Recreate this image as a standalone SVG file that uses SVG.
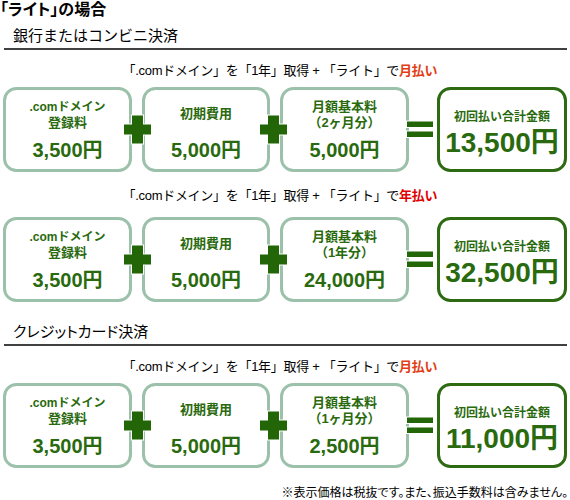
<svg xmlns="http://www.w3.org/2000/svg" xmlns:xlink="http://www.w3.org/1999/xlink" width="570" height="500" viewBox="0 0 570 500">
<style>
text{font-family:"Liberation Sans","Noto Sans CJK JP",sans-serif}
.h1{font-size:16px;font-weight:bold;fill:#000;font-feature-settings:"palt"}
.h2{font-size:15px;fill:#000}
.pal{font-feature-settings:"palt"}
.sub{font-size:13px;fill:#000;text-anchor:middle}
.red1{fill:#e23c14;font-weight:bold}
.red2{fill:#e00000;font-weight:bold}
.box{fill:#fff;stroke:#9cc1ab;stroke-width:3}
.total{fill:#fff;stroke:#2d6a12;stroke-width:3}
.lbl{font-size:13px;font-weight:bold;fill:#2a6a0e;text-anchor:middle}
.lbs{font-size:12px;font-weight:bold;fill:#2a6a0e;text-anchor:middle}
.val{font-size:20px;font-weight:bold;fill:#2a6a0e;text-anchor:middle}
.big{font-size:28px;font-weight:bold;fill:#2a6a0e;text-anchor:middle}
.op{fill:#226608;stroke:#fff;stroke-width:2;paint-order:stroke}
.rule{stroke:#000;stroke-width:1.5}
.note{font-size:12px;fill:#000;text-anchor:end;font-feature-settings:"palt"}
</style>
<defs>
<path id="plus" d="M-5.5,-14 h11 v9 h8 v10 h-8 v9 h-11 v-9 h-8 v-10 h8 z"/>
<g id="eq"><rect x="407" y="121.5" width="26" height="5.5"/><rect x="407" y="131.5" width="26" height="5.5"/></g>
</defs>

<text class="h1" x="0" y="15">「ライト」の場合</text>
<text class="h2" x="13" y="41">銀行またはコンビニ決済</text>
<line class="rule" x1="4" y1="49" x2="567" y2="49"/>

<!-- Row 1 -->
<g id="row1">
<text class="sub" x="280" y="75" textLength="315" lengthAdjust="spacing">「.comドメイン」を「1年」取得 + 「ライト」で<tspan class="red1">月払い</tspan></text>
<g id="r1-domain"><rect class="box" x="4.5" y="88.5" width="126" height="82" rx="12"/><text class="lbs" x="67.5" y="111">.comドメイン</text><text class="lbl" x="67.5" y="127">登録料</text><text class="val" x="67.5" y="157">3,500円</text></g>
<g id="r1-init"><rect class="box" x="143.5" y="88.5" width="125" height="82" rx="12"/><text class="lbl" x="206" y="118">初期費用</text><text class="val" x="206" y="157">5,000円</text></g>
<g id="r1-monthly"><rect class="box" x="281.5" y="88.5" width="126" height="82" rx="12"/><text class="lbl" x="344.5" y="111">月額基本料</text><text class="lbl" x="344.5" y="127">（2ヶ月分）</text><text class="val" x="344.5" y="157">5,000円</text></g>
<g id="r1-total"><rect class="total" x="438.5" y="88.5" width="127" height="82" rx="12"/><text class="lbs" x="502" y="121">初回払い合計金額</text><text class="big" x="502" y="152">13,500円</text></g>
<g id="r1-ops" class="op"><use xlink:href="#plus" x="137.5" y="129.5"/><use xlink:href="#plus" x="273.5" y="129.5"/><use xlink:href="#eq"/></g>
</g>

<!-- Row 2 -->
<g id="row2" transform="translate(0,130)">
<text class="sub" x="280" y="70" textLength="315" lengthAdjust="spacing">「.comドメイン」を「1年」取得 + 「ライト」で<tspan class="red2">年払い</tspan></text>
<g id="r2-domain"><rect class="box" x="4.5" y="88.5" width="126" height="82" rx="12"/><text class="lbs" x="67.5" y="111">.comドメイン</text><text class="lbl" x="67.5" y="127">登録料</text><text class="val" x="67.5" y="157">3,500円</text></g>
<g id="r2-init"><rect class="box" x="143.5" y="88.5" width="125" height="82" rx="12"/><text class="lbl" x="206" y="118">初期費用</text><text class="val" x="206" y="157">5,000円</text></g>
<g id="r2-monthly"><rect class="box" x="281.5" y="88.5" width="126" height="82" rx="12"/><text class="lbl" x="344.5" y="111">月額基本料</text><text class="lbl" x="344.5" y="127">（1年分）</text><text class="val" x="344.5" y="157">24,000円</text></g>
<g id="r2-total"><rect class="total" x="438.5" y="88.5" width="127" height="82" rx="12"/><text class="lbs" x="502" y="121">初回払い合計金額</text><text class="big" x="502" y="152">32,500円</text></g>
<g id="r2-ops" class="op"><use xlink:href="#plus" x="137.5" y="129.5"/><use xlink:href="#plus" x="273.5" y="129.5"/><use xlink:href="#eq"/></g>
</g>

<text class="h2 pal" x="13" y="337">クレジットカード決済</text>
<line class="rule" x1="4" y1="345" x2="567" y2="345"/>

<!-- Row 3 -->
<g id="row3" transform="translate(0,296)">
<text class="sub" x="280" y="75" textLength="315" lengthAdjust="spacing">「.comドメイン」を「1年」取得 + 「ライト」で<tspan class="red1">月払い</tspan></text>
<g id="r3-domain"><rect class="box" x="4.5" y="88.5" width="126" height="82" rx="12"/><text class="lbs" x="67.5" y="111">.comドメイン</text><text class="lbl" x="67.5" y="127">登録料</text><text class="val" x="67.5" y="157">3,500円</text></g>
<g id="r3-init"><rect class="box" x="143.5" y="88.5" width="125" height="82" rx="12"/><text class="lbl" x="206" y="118">初期費用</text><text class="val" x="206" y="157">5,000円</text></g>
<g id="r3-monthly"><rect class="box" x="281.5" y="88.5" width="126" height="82" rx="12"/><text class="lbl" x="344.5" y="111">月額基本料</text><text class="lbl" x="344.5" y="127">（1ヶ月分）</text><text class="val" x="344.5" y="157">2,500円</text></g>
<g id="r3-total"><rect class="total" x="438.5" y="88.5" width="127" height="82" rx="12"/><text class="lbs" x="502" y="121">初回払い合計金額</text><text class="big" x="502" y="152">11,000円</text></g>
<g id="r3-ops" class="op"><use xlink:href="#plus" x="137.5" y="129.5"/><use xlink:href="#plus" x="273.5" y="129.5"/><use xlink:href="#eq"/></g>
</g>

<text class="note" x="568" y="497">※表示価格は税抜です。また、振込手数料は含みません。</text>
</svg>
